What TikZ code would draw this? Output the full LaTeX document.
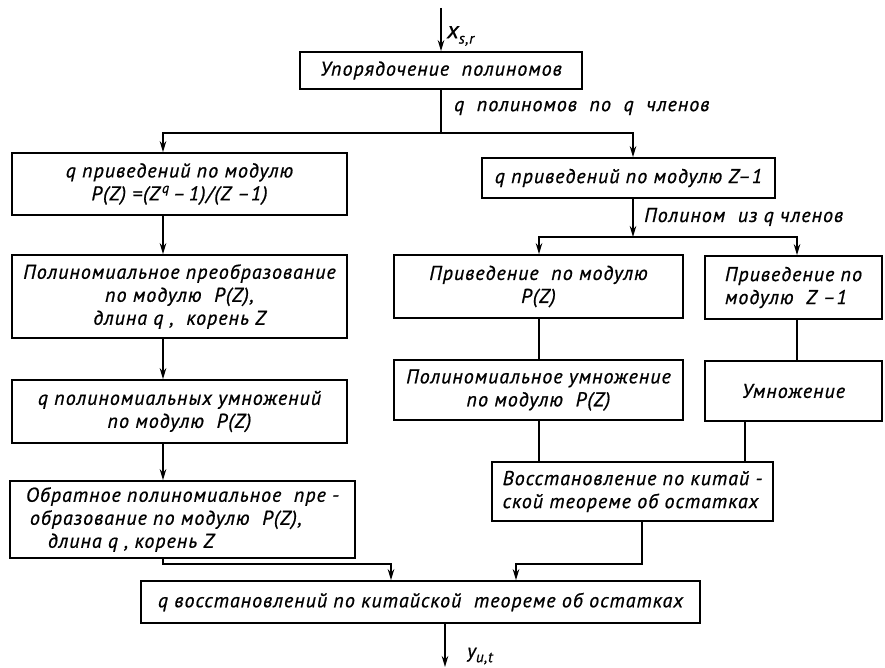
\documentclass[tikz,border=0pt]{standalone}
\usepackage{fontspec}
\usetikzlibrary{arrows.meta}
\newfontfamily\hand{PT Sans}[LetterSpace=5,FakeBold=0.8]
\newcommand\lowsub[1]{\raisebox{-0.45ex}{\fontsize{15}{15}\selectfont #1}}
\begin{document}
\begin{tikzpicture}[x=1pt,y=-1pt,
  every node/.style={font=\hand\itshape\fontsize{20}{23}\selectfont},
  box/.style={draw, line width=1.7pt, inner sep=0pt, align=center},
  wire/.style={line width=1.7pt},
  arr/.style={wire, -{Stealth[length=11pt,width=6.5pt]}}]
\useasboundingbox (0,0) rectangle (885,668);

% process boxes
\node[box, minimum width=282pt, minimum height=37pt] (b0) at (441,70.5)
  {Упорядочение\ \ полиномов};

\node[box, minimum width=335pt, minimum height=62pt] (l1) at (179.5,184)
  {q приведений по модулю\\P(Z) =(Z\textsuperscript{\,q}\,–\,1)/(Z –1)};
\node[box, minimum width=335pt, minimum height=83pt] (l2) at (179.5,296.5)
  {Полиномиальное преобразование\\по модулю\ \ P(Z),\\длина q ,\ \ корень Z};
\node[box, minimum width=335pt, minimum height=63pt] (l3) at (179.5,411.5)
  {q полиномиальных умножений\\по модулю\ \ P(Z)};
\node[box, minimum width=345pt, minimum height=77pt, align=left] (l4) at (182.5,519.5)
  {Обратное полиномиальное\ \ пре -\\\hspace*{4pt}образование по модулю\ \ P(Z),\\\hspace*{22pt}длина q , корень Z};

\node[box, minimum width=293pt, minimum height=40pt] (r1) at (628.5,178)
  {q приведений по модулю Z–1};
\node[box, minimum width=289pt, minimum height=63pt] (r2a) at (538.5,286.5)
  {Приведение\ \ по модулю\\P(Z)};
\node[box, minimum width=177pt, minimum height=63pt, align=left] (r2b) at (793.5,287.5)
  {Приведение\ по\\модулю\ \ Z –1};
\node[box, minimum width=289pt, minimum height=60pt] (r3a) at (538.5,390)
  {Полиномиальное умножение\\по модулю\ \ P(Z)};
\node[box, minimum width=177pt, minimum height=60pt] (r3b) at (793.5,391)
  {Умножение};
\node[box, minimum width=281pt, minimum height=59pt, align=left] (r4) at (632.5,491.5)
  {Восстановление по китай -\\ской теореме об остатках};

\node[box, minimum width=559pt, minimum height=42pt] (bot) at (420.5,602)
  {q восстановлений по китайской\ \ теореме об остатках};

% branch and turning points
\coordinate (in) at (441,8);
\coordinate (jL) at (163,133);
\coordinate (jR) at (633,133);
\coordinate (split) at (633,237);
\coordinate (sA) at (539,237);
\coordinate (sB) at (797,237);
\coordinate (cB) at (745,440);
\coordinate (mL) at (163,564);
\coordinate (aL) at (391,564);
\coordinate (mR) at (642,564);
\coordinate (aR) at (516,564);
\coordinate (out) at (445,667);

% connectors
\draw[arr] (in) -- (b0.north);
\draw[wire] (b0.south) -- (b0.south |- jL);
\draw[arr] (b0.south |- jL) -| (l1.north -| jL);
\draw[arr] (b0.south |- jR) -| (r1.north -| jR);

\draw[arr] (l1.south -| jL) -- (l2.north -| jL);
\draw[arr] (l2.south -| jL) -- (l3.north -| jL);
\draw[arr] (l3.south -| jL) -- (l4.north -| jL);

\draw[arr] (r1.south -| jR) -- (split);
\draw[arr] (split) -| (r2a.north -| sA);
\draw[arr] (split) -| (r2b.north -| sB);
\draw[wire] (r2a.south -| sA) -- (r3a.north -| sA);
\draw[wire] (r2b.south -| sB) -- (r3b.north -| sB);
\draw[wire] (r3a.south -| sA) -- (r4.north -| sA);
\draw[wire] (r3b.south -| cB) -- (r4.north -| cB);

\draw[arr] (l4.south -| mL) -- (mL) -- (aL) -- (aL |- bot.north);
\draw[arr] (r4.south -| mR) -- (mR) -- (aR) -- (aR |- bot.north);
\draw[arr] (bot.south -| out) -- (out);

% signal labels
\node[anchor=west, inner sep=0pt] (xin) at (447,36) {\fontsize{24}{24}\selectfont x\lowsub{s,r}};
\node[anchor=west, inner sep=0pt] (lq) at (454,108) {q\ \ полиномов\ \ по\ \ q\ \ членов};
\node[anchor=west, inner sep=0pt] (lp) at (644,217) {Полином\ \ из q членов};
\node[anchor=west, inner sep=0pt] (yout) at (467,656) {y\lowsub{u,t}};
\end{tikzpicture}
\end{document}
